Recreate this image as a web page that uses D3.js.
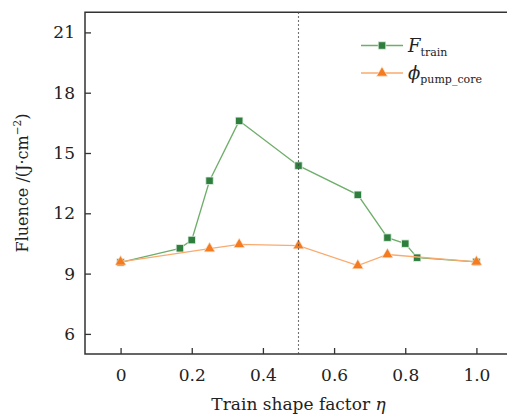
<!DOCTYPE html>
<html>
<head>
<meta charset="utf-8">
<script src="https://cdn.jsdelivr.net/npm/d3@7/dist/d3.min.js"></script>
<style>
  html, body { margin: 0; padding: 0; background: #fff; }
  svg { display: block; }
  svg text { font-family: "DejaVu Serif", serif; fill: #222; }
</style>
</head>
<body>
<svg id="chart" width="507" height="419"></svg>
<script>
// Train shape factor η for each measurement
const etaTrain = [0, 1/6, 0.2, 0.25, 1/3, 0.5, 2/3, 0.75, 0.8, 5/6, 1.0];
// Train fluence F_train (J·cm^-2)
const fTrain = [9.56, 10.26, 10.67, 13.62, 16.6, 14.37, 12.92, 10.79, 10.49, 9.79, 9.58];

const etaCore = [0, 0.25, 1/3, 0.5, 2/3, 0.75, 1.0];
// Pump fluence at the core φ_pump_core (J·cm^-2)
const phiCore = [9.58, 10.24, 10.45, 10.39, 9.40, 9.95, 9.58];

const xTicks = [0, 0.2, 0.4, 0.6, 0.8, 1.0];
const xTickLabels = ["0", "0.2", "0.4", "0.6", "0.8", "1.0"];
const yTicks = [6, 9, 12, 15, 18, 21];
const dividerEta = 0.5;

const greenMark = "#2e7f3e", greenLine = "#6fae6a";
const orangeMark = "#f47b20", orangeLine = "#f9ab6f";
const serif = '"DejaVu Serif", serif';

const svg = d3.select("#chart");
const plotLeft = 85, plotTop = 12.3, plotBottom = 354, plotRight = 512;

const x = d3.scaleLinear().domain([-0.1, 1.1]).range([plotLeft, plotRight]);
const y = d3.scaleLinear().domain([5, 22]).range([plotBottom, plotTop]);

// frame: left, top and bottom edges
svg.append("path")
  .attr("d", `M${plotRight},${plotTop}H${plotLeft}V${plotBottom}H${plotRight}`)
  .attr("fill", "none").attr("stroke", "#333").attr("stroke-width", 1.5);

// axes with inward ticks
const xAxis = d3.axisBottom(x).tickValues(xTicks)
  .tickFormat((d, i) => xTickLabels[i]).tickSizeInner(-6).tickSizeOuter(0).tickPadding(15);
const gx = svg.append("g").attr("transform", `translate(0,${plotBottom})`).call(xAxis);
gx.select(".domain").remove();

const yAxis = d3.axisLeft(y).tickValues(yTicks)
  .tickFormat(d3.format("d")).tickSizeInner(-6).tickSizeOuter(0).tickPadding(10);
const gy = svg.append("g").attr("transform", `translate(${plotLeft},0)`).call(yAxis);
gy.select(".domain").remove();

[gx, gy].forEach(g => {
  g.attr("font-family", serif);
  g.selectAll(".tick line").attr("stroke", "#333").attr("stroke-width", 1.3);
  g.selectAll(".tick text").attr("font-size", 17)
    .style("font-family", serif).attr("fill", "#222");
});

// axis titles
svg.append("text")
  .attr("x", x(0.5)).attr("y", 410)
  .attr("text-anchor", "middle").attr("font-size", 17)
  .style("font-family", serif)
  .html('Train shape factor <tspan font-style="italic">η</tspan>');

svg.append("text")
  .attr("transform", "translate(28,183) rotate(-90)")
  .attr("text-anchor", "middle").attr("font-size", 16)
  .style("font-family", serif)
  .html('Fluence /(J·cm<tspan dy="-7" font-size="10.5">−2</tspan><tspan dy="7">)</tspan>');

const lineGen = d3.line().x(d => x(d[0])).y(d => y(d[1]));
const sq = d3.symbol().type(d3.symbolSquare).size(56);
const tri = d3.symbol().type(d3.symbolTriangle).size(52);

// F_train series
const trainPts = etaTrain.map((e, i) => [e, fTrain[i]]);
svg.append("path").datum(trainPts)
  .attr("d", lineGen).attr("fill", "none")
  .attr("stroke", greenLine).attr("stroke-width", 1.3);
svg.append("g").selectAll("path").data(trainPts).join("path")
  .attr("d", sq)
  .attr("transform", d => `translate(${x(d[0])},${y(d[1])})`)
  .attr("fill", greenMark).attr("stroke", "#e8f2e8").attr("stroke-width", 0.8);

// φ_pump_core series
const corePts = etaCore.map((e, i) => [e, phiCore[i]]);
svg.append("path").datum(corePts)
  .attr("d", lineGen).attr("fill", "none")
  .attr("stroke", orangeLine).attr("stroke-width", 1.3);
svg.append("g").selectAll("path").data(corePts).join("path")
  .attr("d", tri)
  .attr("transform", d => `translate(${x(d[0])},${y(d[1])})`)
  .attr("fill", orangeMark).attr("stroke", "#fde6d4").attr("stroke-width", 0.6);

// dotted divider at η = 0.5
svg.append("line")
  .attr("x1", x(dividerEta)).attr("x2", x(dividerEta))
  .attr("y1", plotTop).attr("y2", plotBottom)
  .attr("stroke", "#444").attr("stroke-width", 1.1)
  .attr("stroke-dasharray", "1.5,2.5");

// legend
const legend = svg.append("g");
const rows = [
  { y: 45.5, line: greenLine, mark: greenMark, sym: sq, stroke: "#e8f2e8",
    main: "F", sub: "train" },
  { y: 73, line: orangeLine, mark: orangeMark, sym: tri, stroke: "#fde6d4",
    main: "ϕ", sub: "pump_core" }
];
rows.forEach(r => {
  legend.append("line").attr("x1", 361).attr("x2", 403)
    .attr("y1", r.y).attr("y2", r.y)
    .attr("stroke", r.line).attr("stroke-width", 1.3);
  legend.append("path").attr("d", r.sym)
    .attr("transform", `translate(382,${r.y})`)
    .attr("fill", r.mark).attr("stroke", r.stroke).attr("stroke-width", 0.7);
  legend.append("text")
    .attr("x", 408).attr("y", r.y + 6)
    .attr("font-size", 18)
    .style("font-family", serif)
    .html(`<tspan font-style="italic">${r.main}</tspan><tspan dy="4" font-size="11">${r.sub}</tspan>`);
});
</script>
</body>
</html>
